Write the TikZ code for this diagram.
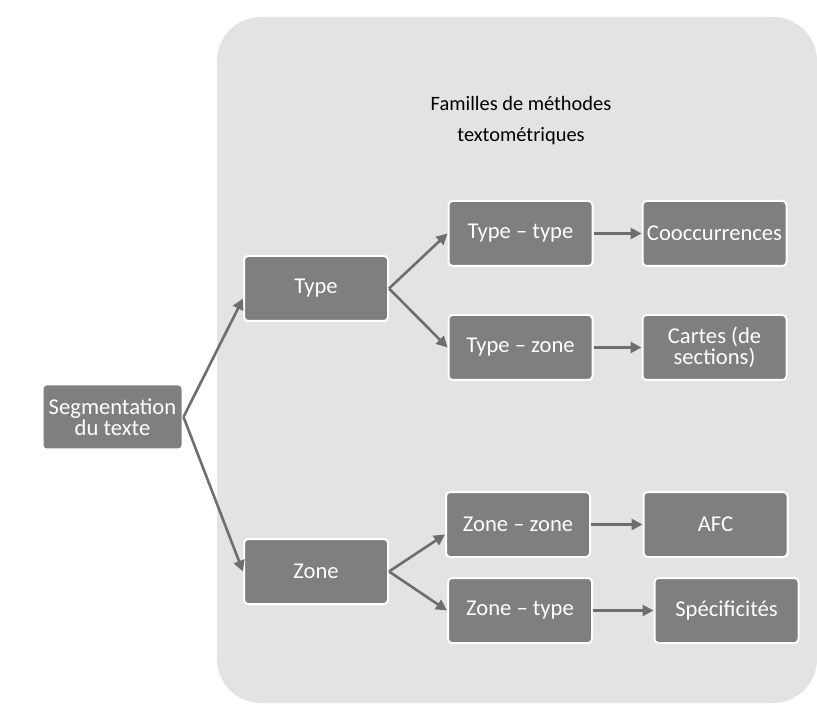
\documentclass[tikz,border=0pt]{standalone}
\usepackage{fontspec}
\setmainfont{Carlito}
\usetikzlibrary{arrows.meta}
\definecolor{panelgray}{HTML}{E3E3E3}
\definecolor{boxgray}{HTML}{7F7F7F}
\definecolor{arrowgray}{HTML}{6E6E6E}
\tikzset{every picture/.style={line width=0.75pt}}

\begin{document}
\begin{tikzpicture}[x=0.5pt,y=-0.5pt,
        box/.style={draw=white, line width=1pt, fill=boxgray, rounded corners=2pt,
            text=white, minimum width=72pt, minimum height=32.5pt, inner sep=2pt,
            align=center, font=\fontsize{11.3}{10.5}\selectfont},
        flow/.style={draw=arrowgray, line width=1.3pt, -{Triangle[length=5.5pt,width=5.5pt]}}]
        \useasboundingbox (0,0) rectangle (817,704);
        \fill[panelgray, rounded corners=22pt] (217,17) rectangle (817,703);
        \node[align=center, text=black, font=\fontsize{10.2}{15.5}\selectfont] (title) at (521,121) {Familles de méthodes\\textométriques};
        \node[box, minimum width=70pt] (seg) at (112.5,417) {Segmentation\\du texte};
        \node[box] (type) at (316,288.5) {Type};
        \node[box] (zone) at (316,571.5) {Zone};
        \node[box] (tt) at (520.5,233.5) {Type -- type};
        \node[box] (tz) at (520.5,347.5) {Type -- zone};
        \node[box] (cooc) at (714.5,233.5) {Cooccurrences};
        \node[box] (cartes) at (714.5,347.5) {Cartes (de\\sections)};
        \node[box] (zz) at (518,524.5) {Zone -- zone};
        \node[box] (afc) at (715.5,524.5) {AFC};
        \node[box] (zt) at (520,610.5) {Zone -- type};
        \node[box] (spec) at (726.5,610.5) {Spécificités};
        \path
            (seg.east) edge[flow] ([yshift=-5pt]type.west)
            (seg.east) edge[flow] (zone.west)
            (type.east) edge[flow] (tt.west)
            (type.east) edge[flow] (tz.west)
            (zone.east) edge[flow] ([yshift=-5pt]zz.west)
            (zone.east) edge[flow] (zt.west)
            (tt.east) edge[flow] (cooc.west)
            (tz.east) edge[flow] (cartes.west)
            (zz.east) edge[flow] (afc.west)
            (zt.east) edge[flow] (spec.west)
            ;
    \end{tikzpicture}
\end{document}
